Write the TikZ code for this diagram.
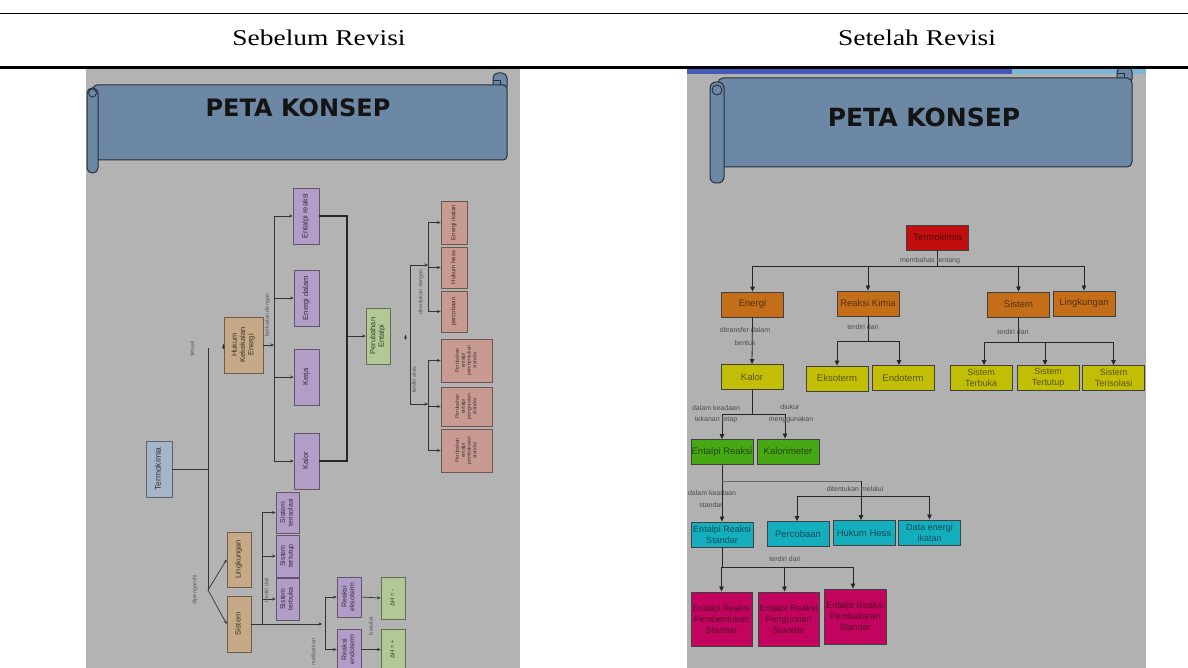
\documentclass[tikz,border=0pt]{standalone}
\usepackage{fontspec}
\setmainfont{Liberation Serif}
\setsansfont{Liberation Sans}
\newfontfamily\titlefont{DejaVu Sans}
\usetikzlibrary{arrows.meta}
\definecolor{lbg}{HTML}{B3B3B3}
\definecolor{rbg}{HTML}{B1B1B1}
\definecolor{banner}{HTML}{6C88A5}
\definecolor{bannerline}{HTML}{26303C}
\definecolor{lpurple}{HTML}{B29CC8}
\definecolor{ltan}{HTML}{C6A987}
\definecolor{lblue}{HTML}{A5B6C8}
\definecolor{lgreen}{HTML}{B2C996}
\definecolor{lsalmon}{HTML}{C89A92}
\definecolor{rred}{HTML}{C20E0E}
\definecolor{rorange}{HTML}{C46E1A}
\definecolor{ryellow}{HTML}{C2BE06}
\definecolor{rgreen}{HTML}{46A814}
\definecolor{rcyan}{HTML}{14AEBE}
\definecolor{rmag}{HTML}{C2045E}
\definecolor{stripblue}{HTML}{4658B8}
\definecolor{stripcyan}{HTML}{7AB6D6}
\newcommand{\rtx}[1]{\rotatebox{90}{\begin{tabular}{@{}c@{}}#1\end{tabular}}}
\begin{document}
\begin{tikzpicture}[x=1pt,y=-1pt,
  lbox/.style={draw=#1!55!black, fill=#1, line width=0.7pt, inner sep=0pt,
    font=\sffamily\fontsize{7.5}{8.2}\selectfont, text=#1!30!black},
  ban/.style={draw=bannerline, fill=banner, line width=1pt},
  lline/.style={draw=black!80, line width=0.7pt},
  larr/.style={draw=black!80, line width=0.7pt, -{Stealth[length=3.5pt,width=3pt]}},
  llab/.style={rotate=90, font=\sffamily\fontsize{5.5}{6}\selectfont, text=black!65, inner sep=0pt},
  rbox/.style={draw=black!75, fill=#1, line width=0.9pt, inner sep=0pt,
    minimum width=62pt, minimum height=25pt, align=center,
    font=\sffamily\fontsize{9.5}{10.5}\selectfont, text=#1!45!black},
  rline/.style={draw=black!85, line width=0.8pt},
  rarr/.style={draw=black!85, line width=0.8pt, -{Triangle[length=5pt,width=4.5pt]}},
  rlab/.style={font=\sffamily\fontsize{7}{8}\selectfont, text=black!70, inner sep=0pt}
]
\useasboundingbox (0,0) rectangle (1188,668);
\fill[white] (0,0) rectangle (1188,668);

% table rules and headers
\draw[line width=1.6pt] (0,13.5) -- (1188,13.5);
\draw[line width=3pt] (0,68) -- (1188,68);
\node[font=\fontsize{22.5}{26}\selectfont] (h1) at (319,38) {\scalebox{1.22}[1]{Sebelum Revisi}};
\node[font=\fontsize{22.5}{26}\selectfont] (h2) at (917,38) {\scalebox{1.22}[1]{Setelah Revisi}};

% ================= LEFT IMAGE =================
\begin{scope}
\clip (86,69.5) rectangle (520,668);
\fill[lbg] (86,69.5) rectangle (520,668);
% scroll banner
\draw[ban, rounded corners=5pt] (493,73) rectangle (507,92);
\draw[ban, rounded corners=4pt] (93,85) rectangle (507,160);
\draw[bannerline, line width=0.8pt] (493,80) -- (500,80) -- (500,85);
\draw[ban, rounded corners=5pt] (87,88) rectangle (98,173);
\draw[bannerline, line width=0.9pt] (92.5,93) circle (4pt);
\node[font=\titlefont\bfseries\fontsize{24}{28}\selectfont, text=black!92] (tl) at (298,108) {PETA KONSEP};

% nodes
\node[lbox=lblue, minimum width=26pt, minimum height=56pt, font=\sffamily\fontsize{8.5}{9}\selectfont] (termo) at (159,469) {\rtx{Termokimia}};
\node[lbox=ltan, minimum width=39pt, minimum height=56pt, font=\sffamily\fontsize{7.5}{8.2}\selectfont] (hukum) at (243.5,345) {\rtx{Hukum\\Kekekalan\\Energi}};
\node[lbox=lpurple, minimum width=26pt, minimum height=56pt] (ent) at (306,216) {\rtx{Entalpi reaksi}};
\node[lbox=lpurple, minimum width=25pt, minimum height=56pt] (edal) at (306.5,298) {\rtx{Energi dalam}};
\node[lbox=lpurple, minimum width=25pt, minimum height=56pt] (kerja) at (306.5,377) {\rtx{Kerja}};
\node[lbox=lpurple, minimum width=25pt, minimum height=56pt] (kalorL) at (306.5,461) {\rtx{Kalor}};
\node[lbox=lgreen, minimum width=24pt, minimum height=56pt, font=\sffamily\fontsize{7.5}{8.4}\selectfont] (perub) at (378,336) {\rtx{Perubahan\\Entalpi}};
\node[lbox=lsalmon, minimum width=26pt, minimum height=43pt, font=\sffamily\fontsize{6}{6.5}\selectfont] (eik) at (454,222.5) {\rtx{Energi ikatan}};
\node[lbox=lsalmon, minimum width=26pt, minimum height=41pt, font=\sffamily\fontsize{6}{6.5}\selectfont] (hess) at (454,267.5) {\rtx{Hukum hess}};
\node[lbox=lsalmon, minimum width=26pt, minimum height=41pt, font=\sffamily\fontsize{6}{6.5}\selectfont] (perc) at (454,311.5) {\rtx{percobaan}};
\node[lbox=lsalmon, minimum width=51pt, minimum height=43pt, font=\sffamily\fontsize{5}{5.8}\selectfont] (pemb) at (466.5,360.5) {\rtx{Perubahan\\entalpi\\pembentukan\\standar}};
\node[lbox=lsalmon, minimum width=51pt, minimum height=39pt, font=\sffamily\fontsize{5}{5.8}\selectfont] (peng) at (466.5,406.5) {\rtx{Perubahan\\entalpi\\penguraian\\standar}};
\node[lbox=lsalmon, minimum width=51pt, minimum height=43pt, font=\sffamily\fontsize{5}{5.8}\selectfont] (pbak) at (466.5,450.5) {\rtx{Perubahan\\entalpi\\pembakaran\\standar}};
\node[lbox=ltan, minimum width=24pt, minimum height=55pt] (ling) at (239,559.5) {\rtx{Lingkungan}};
\node[lbox=ltan, minimum width=24pt, minimum height=56pt] (sist) at (239,624) {\rtx{Sistem}};
\node[lbox=lpurple, minimum width=23pt, minimum height=41pt, font=\sffamily\fontsize{7}{7.8}\selectfont] (sterb) at (287.5,512.5) {\rtx{Sistem\\terisolasi}};
\node[lbox=lpurple, minimum width=23pt, minimum height=42pt, font=\sffamily\fontsize{7}{7.8}\selectfont] (stert) at (287.5,556) {\rtx{Sistem\\tertutup}};
\node[lbox=lpurple, minimum width=23pt, minimum height=42pt, font=\sffamily\fontsize{7}{7.8}\selectfont] (siso) at (287.5,599) {\rtx{Sistem\\terbuka}};
\node[lbox=lpurple, minimum width=24pt, minimum height=40pt, font=\sffamily\fontsize{7}{7.8}\selectfont] (rekso) at (349,597) {\rtx{Reaksi\\eksoterm}};
\node[lbox=lpurple, minimum width=24pt, minimum height=41pt, font=\sffamily\fontsize{7}{7.8}\selectfont] (rendo) at (349,649.5) {\rtx{Reaksi\\endoterm}};
\node[lbox=lgreen, minimum width=24pt, minimum height=42pt, font=\sffamily\fontsize{6}{6.5}\selectfont] (dhm) at (393,598) {\rtx{ΔH = -}};
\node[lbox=lgreen, minimum width=24pt, minimum height=41pt, font=\sffamily\fontsize{6}{6.5}\selectfont] (dhp) at (393,649.5) {\rtx{ΔH = +}};

% connectors
\coordinate (vT) at (208,348);
\coordinate (vB) at (208,590);
\draw[lline] (vT) -- (vB);
\draw[lline] (termo.east) -- (termo.east -| vT);
\draw[larr] (vB) -- (ling.west);
\draw[larr] (vB) -- (sist.west);
\coordinate (aHk) at (223.5,343.5);
\draw[larr] (aHk) -- ++(0,6);

\coordinate (vK) at (274,216);
\draw[lline] (vK) -- (vK |- kalorL.west);
\draw[larr] (hukum.east) -- (hukum.east -| vK);
\foreach \n in {ent,edal,kerja,kalorL} \draw[larr] (vK |- \n.west) -- (\n.west);

\coordinate (vP) at (347,216);
\draw[draw=black!85, line width=1.1pt] (ent.east) -- (ent.east -| vP) -- (vP |- kalorL.east) -- (kalorL.east);
\draw[larr] (vP |- perub.west) -- (perub.west);

\coordinate (vD) at (410,265);
\coordinate (vD2) at (410,404);
\draw[lline] (vD) -- (vD2);
\coordinate (vE) at (428,222.5);
\draw[larr] (vD) -- (vE |- vD);
\draw[larr] (vD2) -- (vE |- vD2);
\draw[lline] (vE |- eik.west) -- (vE |- perc.west);
\draw[lline] (vE |- pemb.west) -- (vE |- pbak.west);
\foreach \n in {eik,hess,perc,pemb,peng,pbak} \draw[larr] (vE |- \n.west) -- (\n.west);
\coordinate (aP) at (405.5,334.5);
\draw[larr] (aP) -- ++(0,5.5);

\coordinate (vS) at (262,512.5);
\coordinate (jS) at (322,624);
\draw[larr] (sist.east) -- (jS);
\draw[lline] (vS) -- (vS |- sist.east);
\foreach \n in {sterb,stert,siso} \draw[larr] (vS |- \n.west) -- (\n.west);
\coordinate (vR) at (325,597);
\draw[lline] (vR |- rekso.west) -- (vR |- rendo.west);
\draw[larr] (vR |- rekso.west) -- (rekso.west);
\draw[larr] (vR |- rendo.west) -- (rendo.west);
\draw[larr] (rekso.east) -- (dhm.west);
\draw[larr] (rendo.east) -- (dhp.west);

% labels
\node[llab] (l1) at (192,349) {sesuai};
\node[llab] (l2) at (267.5,315) {berkaitan dengan};
\node[llab] (l3) at (421,292) {ditentukan dengan};
\node[llab] (l4) at (414,380) {terdiri atas};
\node[llab] (l5) at (195,590) {dipengaruhi};
\node[llab] (l6) at (266.5,590) {terdiri dari};
\node[llab] (l7) at (371,626) {bersifat};
\node[llab] (l8) at (313.5,652) {melibatkan};
\end{scope}

% ================= RIGHT IMAGE =================
\begin{scope}
\clip (687,69.5) rectangle (1146,668);
\fill[rbg] (687,69.5) rectangle (1146,668);
\fill[stripblue] (687,69.5) rectangle (1012,74);
\fill[stripcyan] (1012,69.5) rectangle (1146,74);
% scroll banner
\draw[ban, rounded corners=5pt] (1117,67) rectangle (1132,84);
\draw[ban, rounded corners=5pt] (718,78) rectangle (1132,167);
\draw[bannerline, line width=0.8pt] (1117,73) -- (1124,73) -- (1124,78);
\draw[ban, rounded corners=6pt] (710,82) rectangle (724,183);
\draw[bannerline, line width=0.9pt] (717,90) circle (5pt);
\node[font=\titlefont\bfseries\fontsize{25}{29}\selectfont, text=black!92] (tr) at (924,117.5) {PETA KONSEP};

% nodes
\node[rbox=rred] (termoR) at (937.5,237.5) {Termokimia};
\node[rbox=rorange] (energi) at (752.5,304.5) {Energi};
\node[rbox=rorange] (reaksi) at (868,303.5) {Reaksi Kimia};
\node[rbox=rorange] (sistR) at (1018.5,304.5) {Sistem};
\node[rbox=rorange] (lingR) at (1084,303.5) {Lingkungan};
\node[rbox=ryellow] (kalorR) at (752,377) {Kalor};
\node[rbox=ryellow] (ekso) at (837,378.5) {Eksoterm};
\node[rbox=ryellow] (endo) at (903,378) {Endoterm};
\node[rbox=ryellow, font=\sffamily\fontsize{9}{11}\selectfont] (sterbR) at (981,378) {Sistem\\Terbuka};
\node[rbox=ryellow, font=\sffamily\fontsize{9}{11}\selectfont] (stertR) at (1048,378) {Sistem\\Tertutup};
\node[rbox=ryellow, font=\sffamily\fontsize{9}{11}\selectfont] (sisoR) at (1113.5,378) {Sistem\\Terisolasi};
\node[rbox=rgreen] (entR) at (722,452) {Entalpi Reaksi};
\node[rbox=rgreen] (kalm) at (788,451.5) {Kalorimeter};
\node[rbox=rcyan, font=\sffamily\fontsize{9}{11}\selectfont] (entS) at (722,534.5) {Entalpi Reaksi\\Standar};
\node[rbox=rcyan] (percR) at (798,534) {Percobaan};
\node[rbox=rcyan] (hessR) at (864,533) {Hukum Hess};
\node[rbox=rcyan, font=\sffamily\fontsize{9}{11}\selectfont] (dataR) at (929.5,532.5) {Data energi\\ikatan};
\node[rbox=rmag, minimum width=61pt, minimum height=54pt, font=\sffamily\fontsize{9}{11}\selectfont] (p1) at (721.5,619) {Entalpi Reaksi\\Pembentukan\\Standar};
\node[rbox=rmag, minimum width=61pt, minimum height=54pt, font=\sffamily\fontsize{9}{11}\selectfont] (p2) at (788.5,619) {Entalpi Reaksi\\Penguraian\\Standar};
\node[rbox=rmag, minimum width=62pt, minimum height=55pt, font=\sffamily\fontsize{9}{11}\selectfont] (p3) at (855,616.5) {Entalpi Reaksi\\Pembakaran\\Standar};

% connectors
\coordinate (jM) at (937.5,266);
\draw[rline] (termoR.south) -- (jM);
\draw[rline] (energi.north |- jM) -- (lingR.north |- jM);
\foreach \n in {energi,reaksi,sistR,lingR} \draw[rarr] (\n.north |- jM) -- (\n.north);
\draw[rarr] (energi.south) -- (kalorR.north);

\coordinate (jRk) at (868,341);
\draw[rline] (reaksi.south) -- (jRk);
\draw[rline] (ekso.north |- jRk) -- ([xshift=-4pt]endo.north |- jRk);
\draw[rarr] (ekso.north |- jRk) -- (ekso.north);
\draw[rarr] ([xshift=-4pt]endo.north |- jRk) -- ([xshift=-4pt]endo.north);

\coordinate (jSs) at (1018.5,342);
\draw[rline] (sistR.south) -- (jSs);
\draw[rline] ([xshift=3pt]sterbR.north |- jSs) -- (sisoR.north |- jSs);
\draw[rarr] ([xshift=3pt]sterbR.north |- jSs) -- ([xshift=3pt]sterbR.north);
\draw[rarr] ([xshift=-3pt]stertR.north |- jSs) -- ([xshift=-3pt]stertR.north);
\draw[rarr] (sisoR.north |- jSs) -- (sisoR.north);

\coordinate (jK) at (752,414);
\draw[rline] (kalorR.south) -- (jK);
\draw[rline] (entR.north |- jK) -- ([xshift=-3pt]kalm.north |- jK);
\draw[rarr] (entR.north |- jK) -- (entR.north);
\draw[rarr] ([xshift=-3pt]kalm.north |- jK) -- ([xshift=-3pt]kalm.north);

\coordinate (jE1) at (722,481);
\draw[rarr] (entR.south) -- (entS.north);
\draw[draw=black!60, line width=0.8pt] (jE1) -- ([xshift=-3pt]hessR.north |- jE1);
\draw[rarr] ([xshift=-3pt]hessR.north |- jE1) -- ([xshift=-3pt]hessR.north);
\coordinate (jE2) at (864,496);
\draw[rline] ([xshift=-1pt]percR.north |- jE2) -- (dataR.north |- jE2);
\draw[rarr] ([xshift=-1pt]percR.north |- jE2) -- ([xshift=-1pt]percR.north);
\draw[rarr] (dataR.north |- jE2) -- (dataR.north);

\coordinate (jT2) at (721.5,567);
\draw[rline] (entS.south) -- (entS.south |- jT2) -- ([xshift=-2pt]p3.north |- jT2);
\draw[rarr] (p1.north |- jT2) -- (p1.north);
\draw[rarr] ([xshift=-4pt]p2.north |- jT2) -- ([xshift=-4pt]p2.north);
\draw[rarr] ([xshift=-2pt]p3.north |- jT2) -- ([xshift=-2pt]p3.north);

% labels
\node[rlab] (r1) at (930,261) {membahas tentang};
\node[rlab] (r2) at (745,330) {ditransfer dalam};
\node[rlab] (r3) at (745,343) {bentuk};
\node[rlab] (r4) at (863,327) {terdiri dari};
\node[rlab] (r5) at (1013,332) {terdiri dari};
\node[rlab] (r6) at (716,408) {dalam keadaan};
\node[rlab] (r7) at (716,420) {tekanan tetap};
\node[rlab] (r8) at (790,407) {diukur};
\node[rlab] (r9) at (791,420) {menggunakan};
\node[rlab] (r10) at (855,489) {ditentukan melalui};
\node[rlab] (r11) at (712,493) {dalam keadaan};
\node[rlab] (r12) at (711,505) {standar};
\node[rlab] (r13) at (785,559) {terdiri dari};
\end{scope}
\end{tikzpicture}
\end{document}
